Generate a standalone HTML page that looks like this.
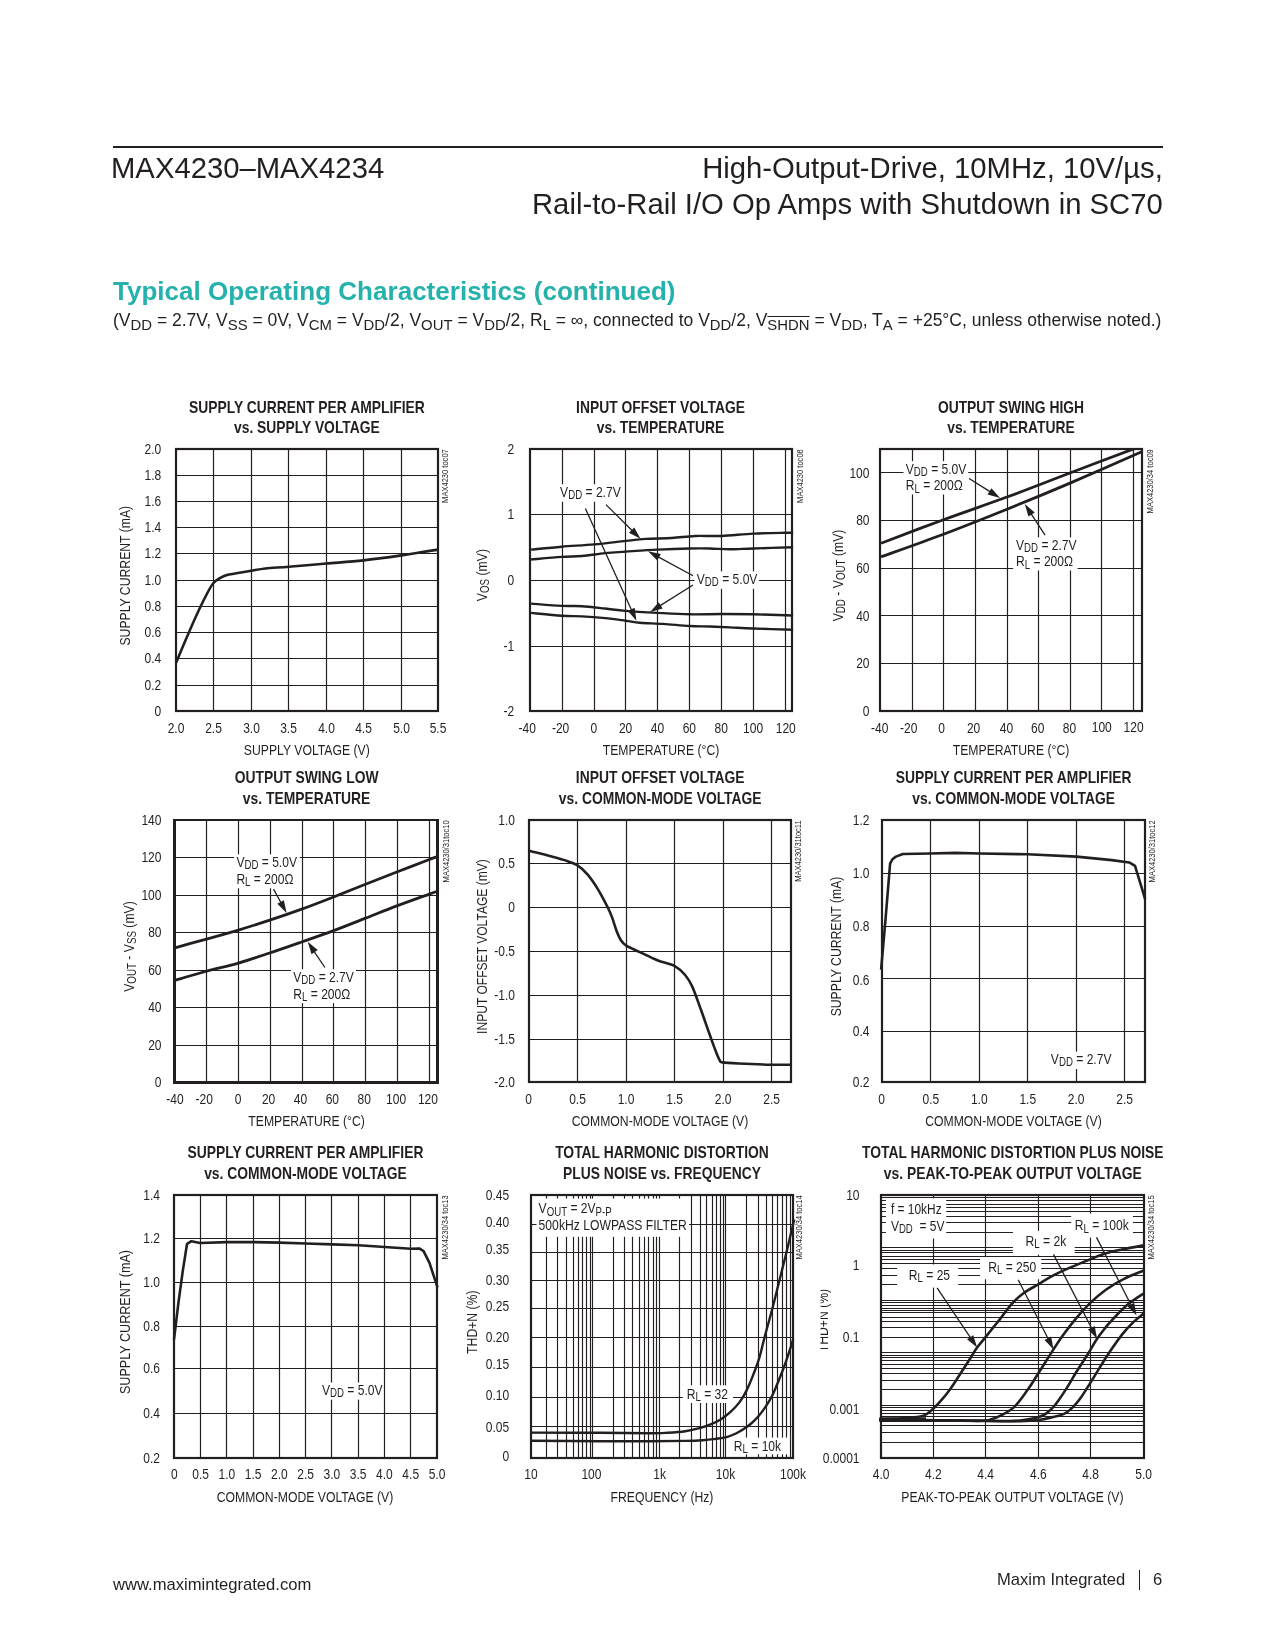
<!DOCTYPE html>
<html><head><meta charset="utf-8"><title>MAX4230-MAX4234</title>
<style>
html,body{margin:0;padding:0;background:#fff;}
body{width:1275px;height:1650px;position:relative;overflow:hidden;font-family:"Liberation Sans",sans-serif;color:#231f20;}
.abs{position:absolute;white-space:nowrap;will-change:transform;}
.rule{position:absolute;left:113px;top:146px;width:1050px;height:2px;background:#231f20;}
.h1{font-size:29.25px;line-height:36px;}
.toc{font-size:26.06px;font-weight:bold;color:#25b2ac;}
.cond{font-size:17.5px;}
.cond sub{font-size:14.9px;vertical-align:baseline;position:relative;top:3.5px;}
.ft{font-size:16.6px;}
svg text{font-family:"Liberation Sans",sans-serif;}
</style></head><body>
<div class="rule"></div>
<div class="abs h1" style="left:111.4px;top:149.6px;">MAX4230–MAX4234</div>
<div class="abs h1" style="right:112.4px;top:149.6px;text-align:right;">High-Output-Drive, 10MHz, 10V/µs,<br>Rail-to-Rail I/O Op Amps with Shutdown in SC70</div>
<div class="abs toc" style="left:112.6px;top:275.8px;">Typical Operating Characteristics (continued)</div>
<div class="abs cond" style="left:112.5px;top:309.8px;">(V<sub>DD</sub> = 2.7V, V<sub>SS</sub> = 0V, V<sub>CM</sub> = V<sub>DD</sub>/2, V<sub>OUT</sub> = V<sub>DD</sub>/2, R<sub>L</sub> = ∞, connected to V<sub>DD</sub>/2, V<sub style="text-decoration:overline">SHDN</sub> = V<sub>DD</sub>, T<sub>A</sub> = +25°C, unless otherwise noted.)</div>
<svg class="abs" style="left:0;top:0;will-change:transform" width="1275" height="1650" viewBox="0 0 1275 1650">
<line x1="213.50" y1="449.00" x2="213.50" y2="711.00" stroke="#231f20" stroke-width="1.2"/>
<line x1="251.50" y1="449.00" x2="251.50" y2="711.00" stroke="#231f20" stroke-width="1.2"/>
<line x1="288.50" y1="449.00" x2="288.50" y2="711.00" stroke="#231f20" stroke-width="1.2"/>
<line x1="326.50" y1="449.00" x2="326.50" y2="711.00" stroke="#231f20" stroke-width="1.2"/>
<line x1="363.50" y1="449.00" x2="363.50" y2="711.00" stroke="#231f20" stroke-width="1.2"/>
<line x1="401.50" y1="449.00" x2="401.50" y2="711.00" stroke="#231f20" stroke-width="1.2"/>
<line x1="176.00" y1="475.50" x2="438.00" y2="475.50" stroke="#231f20" stroke-width="1.2"/>
<line x1="176.00" y1="501.50" x2="438.00" y2="501.50" stroke="#231f20" stroke-width="1.2"/>
<line x1="176.00" y1="527.50" x2="438.00" y2="527.50" stroke="#231f20" stroke-width="1.2"/>
<line x1="176.00" y1="553.50" x2="438.00" y2="553.50" stroke="#231f20" stroke-width="1.2"/>
<line x1="176.00" y1="580.50" x2="438.00" y2="580.50" stroke="#231f20" stroke-width="1.2"/>
<line x1="176.00" y1="606.50" x2="438.00" y2="606.50" stroke="#231f20" stroke-width="1.2"/>
<line x1="176.00" y1="632.50" x2="438.00" y2="632.50" stroke="#231f20" stroke-width="1.2"/>
<line x1="176.00" y1="658.50" x2="438.00" y2="658.50" stroke="#231f20" stroke-width="1.2"/>
<line x1="176.00" y1="685.50" x2="438.00" y2="685.50" stroke="#231f20" stroke-width="1.2"/>
<path d="M176.03,662.79 C177.87,658.43 183.29,645.38 187.06,636.67 C190.83,627.96 195.04,618.29 198.67,610.55 C202.30,602.81 206.36,594.83 208.82,590.24 C211.29,585.64 211.78,584.92 213.47,582.98 C215.16,581.05 216.61,579.98 218.98,578.63 C221.35,577.28 224.30,575.82 227.69,574.86 C231.07,573.89 235.38,573.50 239.30,572.83 C243.21,572.15 246.84,571.52 251.19,570.79 C255.55,570.07 259.17,569.15 265.41,568.47 C271.65,567.80 278.47,567.55 288.63,566.73 C298.79,565.91 313.88,564.60 326.36,563.54 C338.83,562.48 350.97,561.70 363.50,560.35 C376.03,558.99 392.23,556.72 401.52,555.41 C410.80,554.11 413.13,553.48 419.22,552.51 C425.31,551.54 434.94,550.09 438.08,549.61" fill="none" stroke="#231f20" stroke-width="2.6" stroke-linejoin="round" stroke-linecap="butt"/>
<rect x="176.00" y="449.00" width="262.00" height="262.00" fill="none" stroke="#231f20" stroke-width="2.2"/>
<text transform="translate(306.90,412.70) scale(0.872,1)" text-anchor="middle" font-size="15.9" font-weight="bold" fill="#231f20">SUPPLY CURRENT PER AMPLIFIER</text>
<text transform="translate(306.90,433.00) scale(0.872,1)" text-anchor="middle" font-size="15.9" font-weight="bold" fill="#231f20">vs. SUPPLY VOLTAGE</text>
<text transform="translate(161.30,453.80) scale(0.786,1)" text-anchor="end" font-size="15.3" fill="#231f20">2.0</text>
<text transform="translate(161.30,480.30) scale(0.786,1)" text-anchor="end" font-size="15.3" fill="#231f20">1.8</text>
<text transform="translate(161.30,506.30) scale(0.786,1)" text-anchor="end" font-size="15.3" fill="#231f20">1.6</text>
<text transform="translate(161.30,532.30) scale(0.786,1)" text-anchor="end" font-size="15.3" fill="#231f20">1.4</text>
<text transform="translate(161.30,558.30) scale(0.786,1)" text-anchor="end" font-size="15.3" fill="#231f20">1.2</text>
<text transform="translate(161.30,585.30) scale(0.786,1)" text-anchor="end" font-size="15.3" fill="#231f20">1.0</text>
<text transform="translate(161.30,611.30) scale(0.786,1)" text-anchor="end" font-size="15.3" fill="#231f20">0.8</text>
<text transform="translate(161.30,637.30) scale(0.786,1)" text-anchor="end" font-size="15.3" fill="#231f20">0.6</text>
<text transform="translate(161.30,663.30) scale(0.786,1)" text-anchor="end" font-size="15.3" fill="#231f20">0.4</text>
<text transform="translate(161.30,690.30) scale(0.786,1)" text-anchor="end" font-size="15.3" fill="#231f20">0.2</text>
<text transform="translate(161.30,715.80) scale(0.786,1)" text-anchor="end" font-size="15.3" fill="#231f20">0</text>
<text transform="translate(176.00,732.90) scale(0.786,1)" text-anchor="middle" font-size="15.3" fill="#231f20">2.0</text>
<text transform="translate(213.50,732.90) scale(0.786,1)" text-anchor="middle" font-size="15.3" fill="#231f20">2.5</text>
<text transform="translate(251.50,732.90) scale(0.786,1)" text-anchor="middle" font-size="15.3" fill="#231f20">3.0</text>
<text transform="translate(288.50,732.90) scale(0.786,1)" text-anchor="middle" font-size="15.3" fill="#231f20">3.5</text>
<text transform="translate(326.50,732.90) scale(0.786,1)" text-anchor="middle" font-size="15.3" fill="#231f20">4.0</text>
<text transform="translate(363.50,732.90) scale(0.786,1)" text-anchor="middle" font-size="15.3" fill="#231f20">4.5</text>
<text transform="translate(401.50,732.90) scale(0.786,1)" text-anchor="middle" font-size="15.3" fill="#231f20">5.0</text>
<text transform="translate(438.00,732.90) scale(0.786,1)" text-anchor="middle" font-size="15.3" fill="#231f20">5.5</text>
<text transform="translate(306.80,754.80) scale(0.799,1)" text-anchor="middle" font-size="15.3" fill="#231f20">SUPPLY VOLTAGE (V)</text>
<text transform="translate(130.00,575.70) rotate(-90) scale(0.799,1)" text-anchor="middle" font-size="15.3" fill="#231f20">SUPPLY CURRENT (mA)</text>
<text transform="translate(448.40,449.20) rotate(-90) scale(0.84,1)" text-anchor="end" font-size="9.0" fill="#231f20">MAX4230 toc07</text>
<line x1="562.50" y1="449.00" x2="562.50" y2="711.00" stroke="#231f20" stroke-width="1.2"/>
<line x1="594.50" y1="449.00" x2="594.50" y2="711.00" stroke="#231f20" stroke-width="1.2"/>
<line x1="625.50" y1="449.00" x2="625.50" y2="711.00" stroke="#231f20" stroke-width="1.2"/>
<line x1="657.50" y1="449.00" x2="657.50" y2="711.00" stroke="#231f20" stroke-width="1.2"/>
<line x1="689.50" y1="449.00" x2="689.50" y2="711.00" stroke="#231f20" stroke-width="1.2"/>
<line x1="721.50" y1="449.00" x2="721.50" y2="711.00" stroke="#231f20" stroke-width="1.2"/>
<line x1="753.50" y1="449.00" x2="753.50" y2="711.00" stroke="#231f20" stroke-width="1.2"/>
<line x1="785.50" y1="449.00" x2="785.50" y2="711.00" stroke="#231f20" stroke-width="1.2"/>
<line x1="529.80" y1="514.50" x2="792.30" y2="514.50" stroke="#231f20" stroke-width="1.2"/>
<line x1="529.80" y1="580.50" x2="792.30" y2="580.50" stroke="#231f20" stroke-width="1.2"/>
<line x1="529.80" y1="646.50" x2="792.30" y2="646.50" stroke="#231f20" stroke-width="1.2"/>
<path d="M531.10,549.61 C536.18,549.13 551.03,547.58 561.57,546.71 C572.11,545.84 583.67,545.35 594.36,544.39 C605.05,543.42 617.14,541.82 625.70,540.90 C634.27,539.99 638.04,539.36 645.73,538.87 C653.42,538.39 663.62,538.49 671.85,538.00 C680.07,537.52 686.79,536.31 695.06,535.97 C703.33,535.63 711.75,536.36 721.47,535.97 C731.19,535.58 742.75,534.18 753.39,533.65 C764.03,533.12 778.69,532.92 785.31,532.78 C791.94,532.63 791.84,532.78 793.15,532.78" fill="none" stroke="#231f20" stroke-width="2.4" stroke-linejoin="round" stroke-linecap="butt"/>
<path d="M531.10,559.48 C536.18,559.04 553.11,557.45 561.57,556.86 C570.03,556.28 574.63,556.62 581.88,555.99 C589.14,555.37 597.80,553.82 605.10,553.09 C612.40,552.37 616.95,552.22 625.70,551.64 C634.46,551.06 646.99,550.14 657.63,549.61 C668.27,549.08 680.89,548.64 689.55,548.45 C698.21,548.26 702.85,548.30 709.57,548.45 C716.29,548.59 722.58,549.32 729.89,549.32 C737.19,549.32 742.85,548.79 753.39,548.45 C763.94,548.11 786.52,547.48 793.15,547.29" fill="none" stroke="#231f20" stroke-width="2.4" stroke-linejoin="round" stroke-linecap="butt"/>
<path d="M531.10,603.59 C536.18,603.97 553.11,605.47 561.57,605.91 C570.03,606.34 574.63,605.76 581.88,606.20 C589.14,606.63 597.80,607.75 605.10,608.52 C612.40,609.29 616.95,610.12 625.70,610.84 C634.46,611.57 646.99,612.29 657.63,612.87 C668.27,613.45 678.91,614.13 689.55,614.32 C700.19,614.52 710.83,614.03 721.47,614.03 C732.11,614.03 741.45,614.08 753.39,614.32 C765.34,614.57 786.52,615.29 793.15,615.49" fill="none" stroke="#231f20" stroke-width="2.4" stroke-linejoin="round" stroke-linecap="butt"/>
<path d="M531.10,612.87 C536.18,613.36 553.11,615.20 561.57,615.78 C570.03,616.36 574.63,615.97 581.88,616.36 C589.14,616.74 597.80,617.37 605.10,618.10 C612.40,618.82 619.90,619.94 625.70,620.71 C631.51,621.48 633.68,622.21 639.92,622.74 C646.16,623.27 654.87,623.37 663.14,623.90 C671.41,624.43 681.81,625.50 689.55,625.93 C697.29,626.37 702.85,626.27 709.57,626.51 C716.29,626.75 722.58,627.04 729.89,627.38 C737.19,627.72 742.85,628.16 753.39,628.54 C763.94,628.93 786.52,629.51 793.15,629.71" fill="none" stroke="#231f20" stroke-width="2.4" stroke-linejoin="round" stroke-linecap="butt"/>
<rect x="530.00" y="449.00" width="262.00" height="262.00" fill="none" stroke="#231f20" stroke-width="2.2"/>
<rect x="558.09" y="484.31" width="63.26" height="17.41" fill="#fff"/>
<text transform="translate(560.12,496.50) scale(0.79,1)" text-anchor="start" font-size="15.3" fill="#231f20">V<tspan font-size="12.24" dy="2.52">DD</tspan><tspan dy="-2.52">&#8203;</tspan> = 2.7V</text>
<line x1="605.97" y1="504.63" x2="633.05" y2="531.48" stroke="#231f20" stroke-width="1.3"/>
<polygon points="640.50,538.87 628.99,532.73 634.27,527.41" fill="#231f20"/>
<line x1="585.37" y1="508.40" x2="632.09" y2="611.15" stroke="#231f20" stroke-width="1.3"/>
<polygon points="636.44,620.71 627.85,610.88 634.68,607.78" fill="#231f20"/>
<rect x="694.48" y="571.37" width="64.42" height="17.41" fill="#fff"/>
<text transform="translate(696.80,583.56) scale(0.79,1)" text-anchor="start" font-size="15.3" fill="#231f20">V<tspan font-size="12.24" dy="2.52">DD</tspan><tspan dy="-2.52">&#8203;</tspan> = 5.0V</text>
<line x1="693.03" y1="575.73" x2="657.28" y2="556.35" stroke="#231f20" stroke-width="1.3"/>
<polygon points="648.05,551.35 660.83,554.01 657.25,560.60" fill="#231f20"/>
<line x1="693.03" y1="585.01" x2="658.97" y2="606.42" stroke="#231f20" stroke-width="1.3"/>
<polygon points="650.08,612.00 658.67,602.18 662.66,608.53" fill="#231f20"/>
<text transform="translate(660.50,412.70) scale(0.872,1)" text-anchor="middle" font-size="15.9" font-weight="bold" fill="#231f20">INPUT OFFSET VOLTAGE</text>
<text transform="translate(660.50,433.00) scale(0.872,1)" text-anchor="middle" font-size="15.9" font-weight="bold" fill="#231f20">vs. TEMPERATURE</text>
<text transform="translate(514.30,453.80) scale(0.786,1)" text-anchor="end" font-size="15.3" fill="#231f20">2</text>
<text transform="translate(514.30,519.30) scale(0.786,1)" text-anchor="end" font-size="15.3" fill="#231f20">1</text>
<text transform="translate(514.30,585.30) scale(0.786,1)" text-anchor="end" font-size="15.3" fill="#231f20">0</text>
<text transform="translate(514.30,651.30) scale(0.786,1)" text-anchor="end" font-size="15.3" fill="#231f20">-1</text>
<text transform="translate(514.30,715.80) scale(0.786,1)" text-anchor="end" font-size="15.3" fill="#231f20">-2</text>
<text transform="translate(527.30,732.90) scale(0.786,1)" text-anchor="middle" font-size="15.3" fill="#231f20">-40</text>
<text transform="translate(560.60,732.90) scale(0.786,1)" text-anchor="middle" font-size="15.3" fill="#231f20">-20</text>
<text transform="translate(593.78,732.90) scale(0.786,1)" text-anchor="middle" font-size="15.3" fill="#231f20">0</text>
<text transform="translate(625.56,732.90) scale(0.786,1)" text-anchor="middle" font-size="15.3" fill="#231f20">20</text>
<text transform="translate(657.44,732.90) scale(0.786,1)" text-anchor="middle" font-size="15.3" fill="#231f20">40</text>
<text transform="translate(689.32,732.90) scale(0.786,1)" text-anchor="middle" font-size="15.3" fill="#231f20">60</text>
<text transform="translate(721.20,732.90) scale(0.786,1)" text-anchor="middle" font-size="15.3" fill="#231f20">80</text>
<text transform="translate(753.08,732.90) scale(0.786,1)" text-anchor="middle" font-size="15.3" fill="#231f20">100</text>
<text transform="translate(785.76,732.90) scale(0.786,1)" text-anchor="middle" font-size="15.3" fill="#231f20">120</text>
<text transform="translate(661.00,754.80) scale(0.799,1)" text-anchor="middle" font-size="15.3" fill="#231f20">TEMPERATURE (°C)</text>
<text transform="translate(486.80,575.10) rotate(-90) scale(0.799,1)" text-anchor="middle" font-size="15.3" fill="#231f20">V<tspan font-size="12.24" dy="2.52">OS</tspan><tspan dy="-2.52">&#8203;</tspan> (mV)</text>
<text transform="translate(803.20,449.20) rotate(-90) scale(0.84,1)" text-anchor="end" font-size="9.0" fill="#231f20">MAX4230 toc08</text>
<line x1="912.50" y1="449.00" x2="912.50" y2="711.00" stroke="#231f20" stroke-width="1.2"/>
<line x1="943.50" y1="449.00" x2="943.50" y2="711.00" stroke="#231f20" stroke-width="1.2"/>
<line x1="975.50" y1="449.00" x2="975.50" y2="711.00" stroke="#231f20" stroke-width="1.2"/>
<line x1="1007.50" y1="449.00" x2="1007.50" y2="711.00" stroke="#231f20" stroke-width="1.2"/>
<line x1="1038.50" y1="449.00" x2="1038.50" y2="711.00" stroke="#231f20" stroke-width="1.2"/>
<line x1="1070.50" y1="449.00" x2="1070.50" y2="711.00" stroke="#231f20" stroke-width="1.2"/>
<line x1="1101.50" y1="449.00" x2="1101.50" y2="711.00" stroke="#231f20" stroke-width="1.2"/>
<line x1="1133.50" y1="449.00" x2="1133.50" y2="711.00" stroke="#231f20" stroke-width="1.2"/>
<line x1="880.00" y1="663.50" x2="1142.30" y2="663.50" stroke="#231f20" stroke-width="1.2"/>
<line x1="880.00" y1="615.50" x2="1142.30" y2="615.50" stroke="#231f20" stroke-width="1.2"/>
<line x1="880.00" y1="568.50" x2="1142.30" y2="568.50" stroke="#231f20" stroke-width="1.2"/>
<line x1="880.00" y1="520.50" x2="1142.30" y2="520.50" stroke="#231f20" stroke-width="1.2"/>
<line x1="880.00" y1="472.50" x2="1142.30" y2="472.50" stroke="#231f20" stroke-width="1.2"/>
<clipPath id="cp3"><rect x="880.0" y="449.0" width="262.29999999999995" height="262.0"/></clipPath><g clip-path="url(#cp3)">
<path d="M881.10,543.23 C891.50,539.31 922.40,527.46 943.49,519.72 C964.58,511.98 986.44,504.63 1007.63,496.79 C1028.81,488.96 1049.61,480.69 1070.60,472.71 C1091.59,464.73 1121.38,453.51 1133.57,448.91 C1145.76,444.32 1142.04,445.77 1143.73,445.14" fill="none" stroke="#231f20" stroke-width="2.8" stroke-linejoin="round" stroke-linecap="butt"/>
<path d="M881.10,556.86 C891.50,553.09 922.40,542.21 943.49,534.23 C964.58,526.25 986.44,517.54 1007.63,508.98 C1028.81,500.42 1048.16,492.44 1070.60,482.86 C1093.04,473.29 1130.33,456.75 1142.28,451.52" fill="none" stroke="#231f20" stroke-width="2.8" stroke-linejoin="round" stroke-linecap="butt"/>
</g>
<rect x="880.00" y="449.00" width="262.00" height="262.00" fill="none" stroke="#231f20" stroke-width="2.2"/>
<rect x="903.44" y="461.10" width="64.71" height="33.37" fill="#fff"/>
<text transform="translate(905.77,473.58) scale(0.79,1)" text-anchor="start" font-size="15.3" fill="#231f20">V<tspan font-size="12.24" dy="2.52">DD</tspan><tspan dy="-2.52">&#8203;</tspan> = 5.0V</text>
<text transform="translate(905.77,490.41) scale(0.79,1)" text-anchor="start" font-size="15.3" fill="#231f20">R<tspan font-size="12.24" dy="2.52">L</tspan><tspan dy="-2.52">&#8203;</tspan> = 200Ω</text>
<line x1="969.03" y1="478.51" x2="991.18" y2="492.38" stroke="#231f20" stroke-width="1.3"/>
<polygon points="1000.08,497.95 987.50,494.50 991.48,488.14" fill="#231f20"/>
<rect x="1013.14" y="537.42" width="64.42" height="33.08" fill="#fff"/>
<text transform="translate(1016.04,549.61) scale(0.79,1)" text-anchor="start" font-size="15.3" fill="#231f20">V<tspan font-size="12.24" dy="2.52">DD</tspan><tspan dy="-2.52">&#8203;</tspan> = 2.7V</text>
<text transform="translate(1016.04,566.44) scale(0.79,1)" text-anchor="start" font-size="15.3" fill="#231f20">R<tspan font-size="12.24" dy="2.52">L</tspan><tspan dy="-2.52">&#8203;</tspan> = 200Ω</text>
<line x1="1045.06" y1="535.10" x2="1030.50" y2="512.84" stroke="#231f20" stroke-width="1.3"/>
<polygon points="1024.75,504.05 1034.73,512.46 1028.45,516.56" fill="#231f20"/>
<text transform="translate(1011.00,412.70) scale(0.872,1)" text-anchor="middle" font-size="15.9" font-weight="bold" fill="#231f20">OUTPUT SWING HIGH</text>
<text transform="translate(1011.00,433.00) scale(0.872,1)" text-anchor="middle" font-size="15.9" font-weight="bold" fill="#231f20">vs. TEMPERATURE</text>
<text transform="translate(869.50,715.80) scale(0.786,1)" text-anchor="end" font-size="15.3" fill="#231f20">0</text>
<text transform="translate(869.50,668.16) scale(0.786,1)" text-anchor="end" font-size="15.3" fill="#231f20">20</text>
<text transform="translate(869.50,620.53) scale(0.786,1)" text-anchor="end" font-size="15.3" fill="#231f20">40</text>
<text transform="translate(869.50,572.89) scale(0.786,1)" text-anchor="end" font-size="15.3" fill="#231f20">60</text>
<text transform="translate(869.50,525.25) scale(0.786,1)" text-anchor="end" font-size="15.3" fill="#231f20">80</text>
<text transform="translate(869.50,477.62) scale(0.786,1)" text-anchor="end" font-size="15.3" fill="#231f20">100</text>
<text transform="translate(879.70,732.90) scale(0.786,1)" text-anchor="middle" font-size="15.3" fill="#231f20">-40</text>
<text transform="translate(908.75,732.90) scale(0.786,1)" text-anchor="middle" font-size="15.3" fill="#231f20">-20</text>
<text transform="translate(941.68,732.90) scale(0.786,1)" text-anchor="middle" font-size="15.3" fill="#231f20">0</text>
<text transform="translate(973.61,732.90) scale(0.786,1)" text-anchor="middle" font-size="15.3" fill="#231f20">20</text>
<text transform="translate(1006.44,732.90) scale(0.786,1)" text-anchor="middle" font-size="15.3" fill="#231f20">40</text>
<text transform="translate(1037.77,732.90) scale(0.786,1)" text-anchor="middle" font-size="15.3" fill="#231f20">60</text>
<text transform="translate(1069.40,732.90) scale(0.786,1)" text-anchor="middle" font-size="15.3" fill="#231f20">80</text>
<text transform="translate(1101.73,732.10) scale(0.786,1)" text-anchor="middle" font-size="15.3" fill="#231f20">100</text>
<text transform="translate(1133.56,732.10) scale(0.786,1)" text-anchor="middle" font-size="15.3" fill="#231f20">120</text>
<text transform="translate(1011.00,754.80) scale(0.799,1)" text-anchor="middle" font-size="15.3" fill="#231f20">TEMPERATURE (°C)</text>
<text transform="translate(842.60,575.50) rotate(-90) scale(0.799,1)" text-anchor="middle" font-size="15.3" fill="#231f20">V<tspan font-size="12.24" dy="2.52">DD</tspan><tspan dy="-2.52">&#8203;</tspan> - V<tspan font-size="12.24" dy="2.52">OUT</tspan><tspan dy="-2.52">&#8203;</tspan> (mV)</text>
<text transform="translate(1153.20,449.20) rotate(-90) scale(0.84,1)" text-anchor="end" font-size="9.0" fill="#231f20">MAX4230/34 toc09</text>
<line x1="206.50" y1="820.00" x2="206.50" y2="1082.50" stroke="#231f20" stroke-width="1.2"/>
<line x1="238.50" y1="820.00" x2="238.50" y2="1082.50" stroke="#231f20" stroke-width="1.2"/>
<line x1="270.50" y1="820.00" x2="270.50" y2="1082.50" stroke="#231f20" stroke-width="1.2"/>
<line x1="302.50" y1="820.00" x2="302.50" y2="1082.50" stroke="#231f20" stroke-width="1.2"/>
<line x1="333.50" y1="820.00" x2="333.50" y2="1082.50" stroke="#231f20" stroke-width="1.2"/>
<line x1="365.50" y1="820.00" x2="365.50" y2="1082.50" stroke="#231f20" stroke-width="1.2"/>
<line x1="397.50" y1="820.00" x2="397.50" y2="1082.50" stroke="#231f20" stroke-width="1.2"/>
<line x1="429.50" y1="820.00" x2="429.50" y2="1082.50" stroke="#231f20" stroke-width="1.2"/>
<line x1="174.50" y1="857.50" x2="437.50" y2="857.50" stroke="#231f20" stroke-width="1.2"/>
<line x1="174.50" y1="895.50" x2="437.50" y2="895.50" stroke="#231f20" stroke-width="1.2"/>
<line x1="174.50" y1="932.50" x2="437.50" y2="932.50" stroke="#231f20" stroke-width="1.2"/>
<line x1="174.50" y1="970.50" x2="437.50" y2="970.50" stroke="#231f20" stroke-width="1.2"/>
<line x1="174.50" y1="1007.50" x2="437.50" y2="1007.50" stroke="#231f20" stroke-width="1.2"/>
<line x1="174.50" y1="1045.50" x2="437.50" y2="1045.50" stroke="#231f20" stroke-width="1.2"/>
<path d="M174.00,948.05 C179.42,946.55 195.77,942.05 206.50,939.05 C217.24,936.05 227.88,933.20 238.43,930.06 C248.97,926.91 259.22,923.67 269.77,920.19 C280.31,916.71 291.05,913.03 301.69,909.16 C312.33,905.29 322.97,901.13 333.61,896.97 C344.25,892.81 354.89,888.41 365.53,884.21 C376.17,880.00 386.81,875.84 397.45,871.73 C408.10,867.62 422.70,862.05 429.38,859.54 C436.05,857.02 436.15,857.12 437.50,856.64" fill="none" stroke="#231f20" stroke-width="2.8" stroke-linejoin="round" stroke-linecap="butt"/>
<path d="M174.00,980.55 C179.42,979.00 195.77,974.17 206.50,971.27 C217.24,968.36 227.88,966.19 238.43,963.14 C248.97,960.09 259.22,956.51 269.77,952.98 C280.31,949.45 291.05,945.68 301.69,941.96 C312.33,938.23 322.97,934.60 333.61,930.64 C344.25,926.67 354.89,922.32 365.53,918.16 C376.17,914.00 386.81,909.69 397.45,905.68 C408.10,901.67 422.70,896.49 429.38,894.07 C436.05,891.65 436.15,891.65 437.50,891.17" fill="none" stroke="#231f20" stroke-width="2.8" stroke-linejoin="round" stroke-linecap="butt"/>
<rect x="173.0" y="819.0" width="266.0" height="2" fill="#231f20"/>
<rect x="173.0" y="1081.0" width="266.0" height="3" fill="#231f20"/>
<rect x="173.0" y="819.0" width="3" height="265.0" fill="#231f20"/>
<rect x="436.0" y="819.0" width="3" height="265.0" fill="#231f20"/>
<rect x="234.07" y="854.31" width="65.59" height="33.95" fill="#fff"/>
<text transform="translate(236.39,866.79) scale(0.79,1)" text-anchor="start" font-size="15.3" fill="#231f20">V<tspan font-size="12.24" dy="2.52">DD</tspan><tspan dy="-2.52">&#8203;</tspan> = 5.0V</text>
<text transform="translate(236.39,883.92) scale(0.79,1)" text-anchor="start" font-size="15.3" fill="#231f20">R<tspan font-size="12.24" dy="2.52">L</tspan><tspan dy="-2.52">&#8203;</tspan> = 200Ω</text>
<line x1="273.54" y1="889.14" x2="281.55" y2="903.73" stroke="#231f20" stroke-width="1.3"/>
<polygon points="286.60,912.94 277.30,903.78 283.87,900.17" fill="#231f20"/>
<rect x="290.95" y="969.23" width="65.00" height="33.95" fill="#fff"/>
<text transform="translate(293.27,981.71) scale(0.79,1)" text-anchor="start" font-size="15.3" fill="#231f20">V<tspan font-size="12.24" dy="2.52">DD</tspan><tspan dy="-2.52">&#8203;</tspan> = 2.7V</text>
<text transform="translate(293.27,998.54) scale(0.79,1)" text-anchor="start" font-size="15.3" fill="#231f20">R<tspan font-size="12.24" dy="2.52">L</tspan><tspan dy="-2.52">&#8203;</tspan> = 200Ω</text>
<line x1="324.90" y1="967.49" x2="313.54" y2="950.52" stroke="#231f20" stroke-width="1.3"/>
<polygon points="307.70,941.80 317.77,950.10 311.54,954.27" fill="#231f20"/>
<text transform="translate(306.60,783.40) scale(0.872,1)" text-anchor="middle" font-size="15.9" font-weight="bold" fill="#231f20">OUTPUT SWING LOW</text>
<text transform="translate(306.60,803.70) scale(0.872,1)" text-anchor="middle" font-size="15.9" font-weight="bold" fill="#231f20">vs. TEMPERATURE</text>
<text transform="translate(161.50,824.80) scale(0.786,1)" text-anchor="end" font-size="15.3" fill="#231f20">140</text>
<text transform="translate(161.50,862.30) scale(0.786,1)" text-anchor="end" font-size="15.3" fill="#231f20">120</text>
<text transform="translate(161.50,899.80) scale(0.786,1)" text-anchor="end" font-size="15.3" fill="#231f20">100</text>
<text transform="translate(161.50,937.30) scale(0.786,1)" text-anchor="end" font-size="15.3" fill="#231f20">80</text>
<text transform="translate(161.50,974.80) scale(0.786,1)" text-anchor="end" font-size="15.3" fill="#231f20">60</text>
<text transform="translate(161.50,1012.30) scale(0.786,1)" text-anchor="end" font-size="15.3" fill="#231f20">40</text>
<text transform="translate(161.50,1049.80) scale(0.786,1)" text-anchor="end" font-size="15.3" fill="#231f20">20</text>
<text transform="translate(161.50,1087.30) scale(0.786,1)" text-anchor="end" font-size="15.3" fill="#231f20">0</text>
<text transform="translate(175.00,1104.00) scale(0.786,1)" text-anchor="middle" font-size="15.3" fill="#231f20">-40</text>
<text transform="translate(204.30,1104.00) scale(0.786,1)" text-anchor="middle" font-size="15.3" fill="#231f20">-20</text>
<text transform="translate(238.06,1104.00) scale(0.786,1)" text-anchor="middle" font-size="15.3" fill="#231f20">0</text>
<text transform="translate(268.61,1104.00) scale(0.786,1)" text-anchor="middle" font-size="15.3" fill="#231f20">20</text>
<text transform="translate(300.47,1104.00) scale(0.786,1)" text-anchor="middle" font-size="15.3" fill="#231f20">40</text>
<text transform="translate(332.33,1104.00) scale(0.786,1)" text-anchor="middle" font-size="15.3" fill="#231f20">60</text>
<text transform="translate(364.18,1104.00) scale(0.786,1)" text-anchor="middle" font-size="15.3" fill="#231f20">80</text>
<text transform="translate(396.04,1104.00) scale(0.786,1)" text-anchor="middle" font-size="15.3" fill="#231f20">100</text>
<text transform="translate(427.90,1104.00) scale(0.786,1)" text-anchor="middle" font-size="15.3" fill="#231f20">120</text>
<text transform="translate(306.60,1125.90) scale(0.799,1)" text-anchor="middle" font-size="15.3" fill="#231f20">TEMPERATURE (°C)</text>
<text transform="translate(133.50,946.50) rotate(-90) scale(0.799,1)" text-anchor="middle" font-size="15.3" fill="#231f20">V<tspan font-size="12.24" dy="2.52">OUT</tspan><tspan dy="-2.52">&#8203;</tspan> - V<tspan font-size="12.24" dy="2.52">SS</tspan><tspan dy="-2.52">&#8203;</tspan> (mV)</text>
<text transform="translate(448.50,820.30) rotate(-90) scale(0.84,1)" text-anchor="end" font-size="9.0" fill="#231f20">MAX4230/31toc10</text>
<line x1="577.50" y1="820.00" x2="577.50" y2="1082.20" stroke="#231f20" stroke-width="1.2"/>
<line x1="626.50" y1="820.00" x2="626.50" y2="1082.20" stroke="#231f20" stroke-width="1.2"/>
<line x1="674.50" y1="820.00" x2="674.50" y2="1082.20" stroke="#231f20" stroke-width="1.2"/>
<line x1="723.50" y1="820.00" x2="723.50" y2="1082.20" stroke="#231f20" stroke-width="1.2"/>
<line x1="771.50" y1="820.00" x2="771.50" y2="1082.20" stroke="#231f20" stroke-width="1.2"/>
<line x1="529.00" y1="863.50" x2="791.00" y2="863.50" stroke="#231f20" stroke-width="1.2"/>
<line x1="529.00" y1="907.50" x2="791.00" y2="907.50" stroke="#231f20" stroke-width="1.2"/>
<line x1="529.00" y1="951.50" x2="791.00" y2="951.50" stroke="#231f20" stroke-width="1.2"/>
<line x1="529.00" y1="995.50" x2="791.00" y2="995.50" stroke="#231f20" stroke-width="1.2"/>
<line x1="529.00" y1="1039.50" x2="791.00" y2="1039.50" stroke="#231f20" stroke-width="1.2"/>
<path d="M528.78,850.83 C531.82,851.56 541.11,853.64 547.06,855.19 C553.01,856.73 559.39,858.43 564.47,860.12 C569.55,861.81 573.66,862.92 577.53,865.34 C581.40,867.76 584.30,870.66 587.69,874.63 C591.07,878.60 594.46,883.58 597.84,889.14 C601.23,894.70 605.58,903.17 608.00,908.00 C610.42,912.84 610.90,914.29 612.35,918.16 C613.81,922.03 615.26,927.49 616.71,931.22 C618.16,934.94 619.46,938.09 621.06,940.50 C622.66,942.92 623.14,943.79 626.28,945.73 C629.43,947.66 634.75,949.69 639.92,952.11 C645.10,954.53 651.53,957.92 657.34,960.24 C663.14,962.56 670.15,963.62 674.75,966.04 C679.34,968.46 682.00,971.36 684.90,974.75 C687.81,978.13 689.50,980.55 692.16,986.36 C694.82,992.16 697.96,1001.59 700.87,1009.57 C703.77,1017.55 707.15,1027.47 709.57,1034.24 C711.99,1041.01 713.68,1045.85 715.38,1050.20 C717.07,1054.55 718.52,1058.33 719.73,1060.36 C720.94,1062.39 719.49,1061.86 722.63,1062.39 C725.77,1062.92 730.42,1063.16 738.59,1063.55 C746.77,1063.94 762.97,1064.52 771.67,1064.71 C780.38,1064.90 787.64,1064.71 790.83,1064.71" fill="none" stroke="#231f20" stroke-width="2.6" stroke-linejoin="round" stroke-linecap="butt"/>
<rect x="529.00" y="820.00" width="262.00" height="262.00" fill="none" stroke="#231f20" stroke-width="2.2"/>
<text transform="translate(660.20,783.40) scale(0.872,1)" text-anchor="middle" font-size="15.9" font-weight="bold" fill="#231f20">INPUT OFFSET VOLTAGE</text>
<text transform="translate(660.20,803.70) scale(0.872,1)" text-anchor="middle" font-size="15.9" font-weight="bold" fill="#231f20">vs. COMMON-MODE VOLTAGE</text>
<text transform="translate(515.00,824.80) scale(0.786,1)" text-anchor="end" font-size="15.3" fill="#231f20">1.0</text>
<text transform="translate(515.00,868.30) scale(0.786,1)" text-anchor="end" font-size="15.3" fill="#231f20">0.5</text>
<text transform="translate(515.00,912.30) scale(0.786,1)" text-anchor="end" font-size="15.3" fill="#231f20">0</text>
<text transform="translate(515.00,956.30) scale(0.786,1)" text-anchor="end" font-size="15.3" fill="#231f20">-0.5</text>
<text transform="translate(515.00,1000.30) scale(0.786,1)" text-anchor="end" font-size="15.3" fill="#231f20">-1.0</text>
<text transform="translate(515.00,1044.30) scale(0.786,1)" text-anchor="end" font-size="15.3" fill="#231f20">-1.5</text>
<text transform="translate(515.00,1087.00) scale(0.786,1)" text-anchor="end" font-size="15.3" fill="#231f20">-2.0</text>
<text transform="translate(528.50,1104.00) scale(0.786,1)" text-anchor="middle" font-size="15.3" fill="#231f20">0</text>
<text transform="translate(577.52,1104.00) scale(0.786,1)" text-anchor="middle" font-size="15.3" fill="#231f20">0.5</text>
<text transform="translate(626.04,1104.00) scale(0.786,1)" text-anchor="middle" font-size="15.3" fill="#231f20">1.0</text>
<text transform="translate(674.56,1104.00) scale(0.786,1)" text-anchor="middle" font-size="15.3" fill="#231f20">1.5</text>
<text transform="translate(723.07,1104.00) scale(0.786,1)" text-anchor="middle" font-size="15.3" fill="#231f20">2.0</text>
<text transform="translate(771.59,1104.00) scale(0.786,1)" text-anchor="middle" font-size="15.3" fill="#231f20">2.5</text>
<text transform="translate(660.00,1125.90) scale(0.799,1)" text-anchor="middle" font-size="15.3" fill="#231f20">COMMON-MODE VOLTAGE (V)</text>
<text transform="translate(487.20,946.50) rotate(-90) scale(0.79,1)" text-anchor="middle" font-size="15.3" fill="#231f20">INPUT OFFSET VOLTAGE (mV)</text>
<text transform="translate(801.40,820.30) rotate(-90) scale(0.84,1)" text-anchor="end" font-size="9.0" fill="#231f20">MAX4230/31toc11</text>
<line x1="930.50" y1="820.00" x2="930.50" y2="1082.20" stroke="#231f20" stroke-width="1.2"/>
<line x1="979.50" y1="820.00" x2="979.50" y2="1082.20" stroke="#231f20" stroke-width="1.2"/>
<line x1="1027.50" y1="820.00" x2="1027.50" y2="1082.20" stroke="#231f20" stroke-width="1.2"/>
<line x1="1076.50" y1="820.00" x2="1076.50" y2="1082.20" stroke="#231f20" stroke-width="1.2"/>
<line x1="1124.50" y1="820.00" x2="1124.50" y2="1082.20" stroke="#231f20" stroke-width="1.2"/>
<line x1="882.20" y1="873.50" x2="1145.20" y2="873.50" stroke="#231f20" stroke-width="1.2"/>
<line x1="882.20" y1="926.50" x2="1145.20" y2="926.50" stroke="#231f20" stroke-width="1.2"/>
<line x1="882.20" y1="978.50" x2="1145.20" y2="978.50" stroke="#231f20" stroke-width="1.2"/>
<line x1="882.20" y1="1031.50" x2="1145.20" y2="1031.50" stroke="#231f20" stroke-width="1.2"/>
<path d="M881.10,969.52 L885.45,920.19 L890.10,863.60 L892.42,859.25 L895.90,856.64 L902.86,854.02 L930.43,853.44 L955.10,852.86 L979.77,853.44 L1027.65,854.31 L1076.40,856.64 L1111.81,860.12 L1129.22,862.44 L1135.02,865.92 L1140.83,884.79 L1145.18,899.30" fill="none" stroke="#231f20" stroke-width="2.6" stroke-linejoin="round" stroke-linecap="butt"/>
<rect x="882.00" y="820.00" width="263.00" height="262.00" fill="none" stroke="#231f20" stroke-width="2.2"/>
<rect x="1048.54" y="1051.65" width="65.59" height="17.41" fill="#fff"/>
<text transform="translate(1050.87,1063.84) scale(0.79,1)" text-anchor="start" font-size="15.3" fill="#231f20">V<tspan font-size="12.24" dy="2.52">DD</tspan><tspan dy="-2.52">&#8203;</tspan> = 2.7V</text>
<text transform="translate(1013.60,783.40) scale(0.872,1)" text-anchor="middle" font-size="15.9" font-weight="bold" fill="#231f20">SUPPLY CURRENT PER AMPLIFIER</text>
<text transform="translate(1013.60,803.70) scale(0.872,1)" text-anchor="middle" font-size="15.9" font-weight="bold" fill="#231f20">vs. COMMON-MODE VOLTAGE</text>
<text transform="translate(869.50,824.80) scale(0.786,1)" text-anchor="end" font-size="15.3" fill="#231f20">1.2</text>
<text transform="translate(869.50,878.10) scale(0.786,1)" text-anchor="end" font-size="15.3" fill="#231f20">1.0</text>
<text transform="translate(869.50,931.10) scale(0.786,1)" text-anchor="end" font-size="15.3" fill="#231f20">0.8</text>
<text transform="translate(869.50,984.80) scale(0.786,1)" text-anchor="end" font-size="15.3" fill="#231f20">0.6</text>
<text transform="translate(869.50,1036.40) scale(0.786,1)" text-anchor="end" font-size="15.3" fill="#231f20">0.4</text>
<text transform="translate(869.50,1087.00) scale(0.786,1)" text-anchor="end" font-size="15.3" fill="#231f20">0.2</text>
<text transform="translate(881.70,1104.00) scale(0.786,1)" text-anchor="middle" font-size="15.3" fill="#231f20">0</text>
<text transform="translate(930.80,1104.00) scale(0.786,1)" text-anchor="middle" font-size="15.3" fill="#231f20">0.5</text>
<text transform="translate(979.27,1104.00) scale(0.786,1)" text-anchor="middle" font-size="15.3" fill="#231f20">1.0</text>
<text transform="translate(1027.74,1104.00) scale(0.786,1)" text-anchor="middle" font-size="15.3" fill="#231f20">1.5</text>
<text transform="translate(1076.21,1104.00) scale(0.786,1)" text-anchor="middle" font-size="15.3" fill="#231f20">2.0</text>
<text transform="translate(1124.68,1104.00) scale(0.786,1)" text-anchor="middle" font-size="15.3" fill="#231f20">2.5</text>
<text transform="translate(1013.50,1125.90) scale(0.799,1)" text-anchor="middle" font-size="15.3" fill="#231f20">COMMON-MODE VOLTAGE (V)</text>
<text transform="translate(840.60,946.50) rotate(-90) scale(0.799,1)" text-anchor="middle" font-size="15.3" fill="#231f20">SUPPLY CURRENT (mA)</text>
<text transform="translate(1154.60,820.30) rotate(-90) scale(0.84,1)" text-anchor="end" font-size="9.0" fill="#231f20">MAX4230/31toc12</text>
<line x1="200.50" y1="1194.80" x2="200.50" y2="1457.80" stroke="#231f20" stroke-width="1.2"/>
<line x1="226.50" y1="1194.80" x2="226.50" y2="1457.80" stroke="#231f20" stroke-width="1.2"/>
<line x1="253.50" y1="1194.80" x2="253.50" y2="1457.80" stroke="#231f20" stroke-width="1.2"/>
<line x1="279.50" y1="1194.80" x2="279.50" y2="1457.80" stroke="#231f20" stroke-width="1.2"/>
<line x1="305.50" y1="1194.80" x2="305.50" y2="1457.80" stroke="#231f20" stroke-width="1.2"/>
<line x1="331.50" y1="1194.80" x2="331.50" y2="1457.80" stroke="#231f20" stroke-width="1.2"/>
<line x1="358.50" y1="1194.80" x2="358.50" y2="1457.80" stroke="#231f20" stroke-width="1.2"/>
<line x1="384.50" y1="1194.80" x2="384.50" y2="1457.80" stroke="#231f20" stroke-width="1.2"/>
<line x1="410.50" y1="1194.80" x2="410.50" y2="1457.80" stroke="#231f20" stroke-width="1.2"/>
<line x1="174.30" y1="1238.50" x2="437.00" y2="1238.50" stroke="#231f20" stroke-width="1.2"/>
<line x1="174.30" y1="1282.50" x2="437.00" y2="1282.50" stroke="#231f20" stroke-width="1.2"/>
<line x1="174.30" y1="1326.50" x2="437.00" y2="1326.50" stroke="#231f20" stroke-width="1.2"/>
<line x1="174.30" y1="1368.50" x2="437.00" y2="1368.50" stroke="#231f20" stroke-width="1.2"/>
<line x1="174.30" y1="1413.50" x2="437.00" y2="1413.50" stroke="#231f20" stroke-width="1.2"/>
<path d="M174.00,1339.59 L178.35,1303.32 L182.71,1271.39 L187.06,1243.82 L191.41,1241.21 L200.12,1242.95 L227.11,1242.08 L253.52,1242.08 L279.63,1242.66 L305.75,1243.53 L332.45,1244.41 L358.57,1245.28 L384.69,1247.02 L410.80,1248.76 L419.22,1248.47 L423.57,1251.08 L429.38,1262.69 L437.50,1287.35" fill="none" stroke="#231f20" stroke-width="2.6" stroke-linejoin="round" stroke-linecap="butt"/>
<rect x="174.00" y="1195.00" width="263.00" height="263.00" fill="none" stroke="#231f20" stroke-width="2.2"/>
<rect x="319.97" y="1382.54" width="62.97" height="17.12" fill="#fff"/>
<text transform="translate(322.00,1394.73) scale(0.79,1)" text-anchor="start" font-size="15.3" fill="#231f20">V<tspan font-size="12.24" dy="2.52">DD</tspan><tspan dy="-2.52">&#8203;</tspan> = 5.0V</text>
<text transform="translate(305.50,1158.40) scale(0.872,1)" text-anchor="middle" font-size="15.9" font-weight="bold" fill="#231f20">SUPPLY CURRENT PER AMPLIFIER</text>
<text transform="translate(305.50,1178.70) scale(0.872,1)" text-anchor="middle" font-size="15.9" font-weight="bold" fill="#231f20">vs. COMMON-MODE VOLTAGE</text>
<text transform="translate(160.00,1199.60) scale(0.786,1)" text-anchor="end" font-size="15.3" fill="#231f20">1.4</text>
<text transform="translate(160.00,1243.30) scale(0.786,1)" text-anchor="end" font-size="15.3" fill="#231f20">1.2</text>
<text transform="translate(160.00,1287.30) scale(0.786,1)" text-anchor="end" font-size="15.3" fill="#231f20">1.0</text>
<text transform="translate(160.00,1331.30) scale(0.786,1)" text-anchor="end" font-size="15.3" fill="#231f20">0.8</text>
<text transform="translate(160.00,1373.30) scale(0.786,1)" text-anchor="end" font-size="15.3" fill="#231f20">0.6</text>
<text transform="translate(160.00,1418.30) scale(0.786,1)" text-anchor="end" font-size="15.3" fill="#231f20">0.4</text>
<text transform="translate(160.00,1462.60) scale(0.786,1)" text-anchor="end" font-size="15.3" fill="#231f20">0.2</text>
<text transform="translate(174.30,1479.30) scale(0.786,1)" text-anchor="middle" font-size="15.3" fill="#231f20">0</text>
<text transform="translate(200.57,1479.30) scale(0.786,1)" text-anchor="middle" font-size="15.3" fill="#231f20">0.5</text>
<text transform="translate(226.84,1479.30) scale(0.786,1)" text-anchor="middle" font-size="15.3" fill="#231f20">1.0</text>
<text transform="translate(253.11,1479.30) scale(0.786,1)" text-anchor="middle" font-size="15.3" fill="#231f20">1.5</text>
<text transform="translate(279.38,1479.30) scale(0.786,1)" text-anchor="middle" font-size="15.3" fill="#231f20">2.0</text>
<text transform="translate(305.65,1479.30) scale(0.786,1)" text-anchor="middle" font-size="15.3" fill="#231f20">2.5</text>
<text transform="translate(331.92,1479.30) scale(0.786,1)" text-anchor="middle" font-size="15.3" fill="#231f20">3.0</text>
<text transform="translate(358.19,1479.30) scale(0.786,1)" text-anchor="middle" font-size="15.3" fill="#231f20">3.5</text>
<text transform="translate(384.46,1479.30) scale(0.786,1)" text-anchor="middle" font-size="15.3" fill="#231f20">4.0</text>
<text transform="translate(410.73,1479.30) scale(0.786,1)" text-anchor="middle" font-size="15.3" fill="#231f20">4.5</text>
<text transform="translate(437.00,1479.30) scale(0.786,1)" text-anchor="middle" font-size="15.3" fill="#231f20">5.0</text>
<text transform="translate(305.00,1501.60) scale(0.799,1)" text-anchor="middle" font-size="15.3" fill="#231f20">COMMON-MODE VOLTAGE (V)</text>
<text transform="translate(130.40,1322.00) rotate(-90) scale(0.824,1)" text-anchor="middle" font-size="15.3" fill="#231f20">SUPPLY CURRENT (mA)</text>
<text transform="translate(448.00,1195.30) rotate(-90) scale(0.84,1)" text-anchor="end" font-size="9.0" fill="#231f20">MAX4230/34 toc13</text>
<line x1="546.50" y1="1194.80" x2="546.50" y2="1457.80" stroke="#231f20" stroke-width="1.15"/>
<line x1="557.50" y1="1194.80" x2="557.50" y2="1457.80" stroke="#231f20" stroke-width="1.15"/>
<line x1="566.50" y1="1194.80" x2="566.50" y2="1457.80" stroke="#231f20" stroke-width="1.15"/>
<line x1="573.50" y1="1194.80" x2="573.50" y2="1457.80" stroke="#231f20" stroke-width="1.15"/>
<line x1="578.50" y1="1194.80" x2="578.50" y2="1457.80" stroke="#231f20" stroke-width="1.15"/>
<line x1="582.50" y1="1194.80" x2="582.50" y2="1457.80" stroke="#231f20" stroke-width="1.15"/>
<line x1="586.50" y1="1194.80" x2="586.50" y2="1457.80" stroke="#231f20" stroke-width="1.15"/>
<line x1="590.50" y1="1194.80" x2="590.50" y2="1457.80" stroke="#231f20" stroke-width="1.15"/>
<line x1="592.50" y1="1194.80" x2="592.50" y2="1457.80" stroke="#231f20" stroke-width="1.15"/>
<line x1="613.50" y1="1194.80" x2="613.50" y2="1457.80" stroke="#231f20" stroke-width="1.15"/>
<line x1="624.50" y1="1194.80" x2="624.50" y2="1457.80" stroke="#231f20" stroke-width="1.15"/>
<line x1="632.50" y1="1194.80" x2="632.50" y2="1457.80" stroke="#231f20" stroke-width="1.15"/>
<line x1="639.50" y1="1194.80" x2="639.50" y2="1457.80" stroke="#231f20" stroke-width="1.15"/>
<line x1="644.50" y1="1194.80" x2="644.50" y2="1457.80" stroke="#231f20" stroke-width="1.15"/>
<line x1="648.50" y1="1194.80" x2="648.50" y2="1457.80" stroke="#231f20" stroke-width="1.15"/>
<line x1="653.50" y1="1194.80" x2="653.50" y2="1457.80" stroke="#231f20" stroke-width="1.15"/>
<line x1="656.50" y1="1194.80" x2="656.50" y2="1457.80" stroke="#231f20" stroke-width="1.15"/>
<line x1="659.50" y1="1194.80" x2="659.50" y2="1457.80" stroke="#231f20" stroke-width="1.15"/>
<line x1="679.50" y1="1194.80" x2="679.50" y2="1457.80" stroke="#231f20" stroke-width="1.15"/>
<line x1="691.50" y1="1194.80" x2="691.50" y2="1457.80" stroke="#231f20" stroke-width="1.15"/>
<line x1="700.50" y1="1194.80" x2="700.50" y2="1457.80" stroke="#231f20" stroke-width="1.15"/>
<line x1="706.50" y1="1194.80" x2="706.50" y2="1457.80" stroke="#231f20" stroke-width="1.15"/>
<line x1="712.50" y1="1194.80" x2="712.50" y2="1457.80" stroke="#231f20" stroke-width="1.15"/>
<line x1="716.50" y1="1194.80" x2="716.50" y2="1457.80" stroke="#231f20" stroke-width="1.15"/>
<line x1="720.50" y1="1194.80" x2="720.50" y2="1457.80" stroke="#231f20" stroke-width="1.15"/>
<line x1="723.50" y1="1194.80" x2="723.50" y2="1457.80" stroke="#231f20" stroke-width="1.15"/>
<line x1="725.50" y1="1194.80" x2="725.50" y2="1457.80" stroke="#231f20" stroke-width="1.15"/>
<line x1="746.50" y1="1194.80" x2="746.50" y2="1457.80" stroke="#231f20" stroke-width="1.15"/>
<line x1="758.50" y1="1194.80" x2="758.50" y2="1457.80" stroke="#231f20" stroke-width="1.15"/>
<line x1="766.50" y1="1194.80" x2="766.50" y2="1457.80" stroke="#231f20" stroke-width="1.15"/>
<line x1="772.50" y1="1194.80" x2="772.50" y2="1457.80" stroke="#231f20" stroke-width="1.15"/>
<line x1="777.50" y1="1194.80" x2="777.50" y2="1457.80" stroke="#231f20" stroke-width="1.15"/>
<line x1="782.50" y1="1194.80" x2="782.50" y2="1457.80" stroke="#231f20" stroke-width="1.15"/>
<line x1="786.50" y1="1194.80" x2="786.50" y2="1457.80" stroke="#231f20" stroke-width="1.15"/>
<line x1="790.50" y1="1194.80" x2="790.50" y2="1457.80" stroke="#231f20" stroke-width="1.15"/>
<line x1="531.20" y1="1224.50" x2="792.90" y2="1224.50" stroke="#231f20" stroke-width="1.15"/>
<line x1="531.20" y1="1252.50" x2="792.90" y2="1252.50" stroke="#231f20" stroke-width="1.15"/>
<line x1="531.20" y1="1280.50" x2="792.90" y2="1280.50" stroke="#231f20" stroke-width="1.15"/>
<line x1="531.20" y1="1308.50" x2="792.90" y2="1308.50" stroke="#231f20" stroke-width="1.15"/>
<line x1="531.20" y1="1337.50" x2="792.90" y2="1337.50" stroke="#231f20" stroke-width="1.15"/>
<line x1="531.20" y1="1367.50" x2="792.90" y2="1367.50" stroke="#231f20" stroke-width="1.15"/>
<line x1="531.20" y1="1397.50" x2="792.90" y2="1397.50" stroke="#231f20" stroke-width="1.15"/>
<line x1="531.20" y1="1426.50" x2="792.90" y2="1426.50" stroke="#231f20" stroke-width="1.15"/>
<rect x="536.50" y="1198.60" width="152.50" height="38.20" fill="#fff"/>
<rect x="682.90" y="1385.30" width="50.10" height="17.70" fill="#fff"/>
<rect x="731.20" y="1437.60" width="57.20" height="16.70" fill="#fff"/>
<path d="M531.20,1432.60 C542.67,1432.63 580.20,1432.70 600.00,1432.80 C619.80,1432.90 638.73,1433.22 650.00,1433.20 C661.27,1433.18 661.72,1433.03 667.60,1432.70 C673.48,1432.37 680.00,1431.95 685.30,1431.20 C690.60,1430.45 695.08,1429.38 699.40,1428.20 C703.72,1427.02 707.67,1425.57 711.20,1424.10 C714.73,1422.63 717.47,1421.35 720.60,1419.40 C723.73,1417.45 726.87,1415.23 730.00,1412.40 C733.13,1409.57 736.65,1406.03 739.40,1402.40 C742.15,1398.77 744.15,1395.32 746.50,1390.60 C748.85,1385.88 751.35,1379.60 753.50,1374.10 C755.65,1368.60 757.50,1363.95 759.40,1357.60 C761.30,1351.25 762.73,1344.18 764.90,1336.00 C767.07,1327.82 769.98,1317.75 772.40,1308.50 C774.82,1299.25 777.05,1289.87 779.40,1280.50 C781.75,1271.13 784.25,1261.55 786.50,1252.30 C788.75,1243.05 791.60,1230.47 792.90,1225.00 C794.20,1219.53 794.07,1220.42 794.30,1219.50" fill="none" stroke="#231f20" stroke-width="2.4" stroke-linejoin="round" stroke-linecap="butt"/>
<path d="M531.20,1440.80 C542.67,1440.87 580.20,1441.13 600.00,1441.20 C619.80,1441.27 635.78,1441.25 650.00,1441.20 C664.22,1441.15 676.48,1441.07 685.30,1440.90 C694.12,1440.73 697.80,1440.55 702.90,1440.20 C708.00,1439.85 711.97,1439.32 715.90,1438.80 C719.83,1438.28 723.17,1437.98 726.50,1437.10 C729.83,1436.22 732.97,1434.88 735.90,1433.50 C738.83,1432.12 741.55,1430.47 744.10,1428.80 C746.65,1427.13 748.85,1425.55 751.20,1423.50 C753.55,1421.45 755.85,1419.23 758.20,1416.50 C760.55,1413.77 762.93,1410.63 765.30,1407.10 C767.67,1403.57 770.05,1400.02 772.40,1395.30 C774.75,1390.58 777.25,1384.10 779.40,1378.80 C781.55,1373.50 783.53,1368.40 785.30,1363.50 C787.07,1358.60 788.68,1353.48 790.00,1349.40 C791.32,1345.32 792.67,1340.73 793.20,1339.00" fill="none" stroke="#231f20" stroke-width="2.4" stroke-linejoin="round" stroke-linecap="butt"/>
<rect x="531.00" y="1195.00" width="262.00" height="263.00" fill="none" stroke="#231f20" stroke-width="2.2"/>
<text transform="translate(538.60,1213.40) scale(0.79,1)" text-anchor="start" font-size="15.3" fill="#231f20">V<tspan font-size="12.24" dy="2.52">OUT</tspan><tspan dy="-2.52">&#8203;</tspan> = 2V<tspan font-size="12.24" dy="2.52">P-P</tspan><tspan dy="-2.52">&#8203;</tspan></text>
<text transform="translate(538.60,1230.30) scale(0.795,1)" text-anchor="start" font-size="15.3" fill="#231f20">500kHz LOWPASS FILTER</text>
<text transform="translate(686.70,1398.60) scale(0.79,1)" text-anchor="start" font-size="15.3" fill="#231f20">R<tspan font-size="12.24" dy="2.52">L</tspan><tspan dy="-2.52">&#8203;</tspan> = 32</text>
<text transform="translate(733.80,1450.60) scale(0.79,1)" text-anchor="start" font-size="15.3" fill="#231f20">R<tspan font-size="12.24" dy="2.52">L</tspan><tspan dy="-2.52">&#8203;</tspan> = 10k</text>
<text transform="translate(662.00,1158.40) scale(0.872,1)" text-anchor="middle" font-size="15.9" font-weight="bold" fill="#231f20">TOTAL HARMONIC DISTORTION</text>
<text transform="translate(662.00,1178.70) scale(0.872,1)" text-anchor="middle" font-size="15.9" font-weight="bold" fill="#231f20">PLUS NOISE vs. FREQUENCY</text>
<text transform="translate(509.20,1199.70) scale(0.786,1)" text-anchor="end" font-size="15.3" fill="#231f20">0.45</text>
<text transform="translate(509.20,1227.20) scale(0.786,1)" text-anchor="end" font-size="15.3" fill="#231f20">0.40</text>
<text transform="translate(509.20,1253.90) scale(0.786,1)" text-anchor="end" font-size="15.3" fill="#231f20">0.35</text>
<text transform="translate(509.20,1284.80) scale(0.786,1)" text-anchor="end" font-size="15.3" fill="#231f20">0.30</text>
<text transform="translate(509.20,1310.80) scale(0.786,1)" text-anchor="end" font-size="15.3" fill="#231f20">0.25</text>
<text transform="translate(509.20,1341.50) scale(0.786,1)" text-anchor="end" font-size="15.3" fill="#231f20">0.20</text>
<text transform="translate(509.20,1369.30) scale(0.786,1)" text-anchor="end" font-size="15.3" fill="#231f20">0.15</text>
<text transform="translate(509.20,1399.70) scale(0.786,1)" text-anchor="end" font-size="15.3" fill="#231f20">0.10</text>
<text transform="translate(509.20,1431.50) scale(0.786,1)" text-anchor="end" font-size="15.3" fill="#231f20">0.05</text>
<text transform="translate(509.20,1460.60) scale(0.786,1)" text-anchor="end" font-size="15.3" fill="#231f20">0</text>
<text transform="translate(531.00,1479.30) scale(0.786,1)" text-anchor="middle" font-size="15.3" fill="#231f20">10</text>
<text transform="translate(591.40,1479.30) scale(0.786,1)" text-anchor="middle" font-size="15.3" fill="#231f20">100</text>
<text transform="translate(659.60,1479.30) scale(0.786,1)" text-anchor="middle" font-size="15.3" fill="#231f20">1k</text>
<text transform="translate(725.50,1479.30) scale(0.786,1)" text-anchor="middle" font-size="15.3" fill="#231f20">10k</text>
<text transform="translate(793.00,1479.30) scale(0.786,1)" text-anchor="middle" font-size="15.3" fill="#231f20">100k</text>
<text transform="translate(662.00,1501.60) scale(0.799,1)" text-anchor="middle" font-size="15.3" fill="#231f20">FREQUENCY (Hz)</text>
<text transform="translate(476.90,1322.20) rotate(-90) scale(0.799,1)" text-anchor="middle" font-size="15.3" fill="#231f20">THD+N (%)</text>
<text transform="translate(802.40,1195.30) rotate(-90) scale(0.84,1)" text-anchor="end" font-size="9.0" fill="#231f20">MAX4230/34 toc14</text>
<line x1="933.50" y1="1194.70" x2="933.50" y2="1457.80" stroke="#231f20" stroke-width="1.15"/>
<line x1="985.50" y1="1194.70" x2="985.50" y2="1457.80" stroke="#231f20" stroke-width="1.15"/>
<line x1="1038.50" y1="1194.70" x2="1038.50" y2="1457.80" stroke="#231f20" stroke-width="1.15"/>
<line x1="1090.50" y1="1194.70" x2="1090.50" y2="1457.80" stroke="#231f20" stroke-width="1.15"/>
<line x1="881.20" y1="1197.50" x2="1143.80" y2="1197.50" stroke="#231f20" stroke-width="1.15"/>
<line x1="881.20" y1="1200.50" x2="1143.80" y2="1200.50" stroke="#231f20" stroke-width="1.15"/>
<line x1="881.20" y1="1204.50" x2="1143.80" y2="1204.50" stroke="#231f20" stroke-width="1.15"/>
<line x1="881.20" y1="1207.50" x2="1143.80" y2="1207.50" stroke="#231f20" stroke-width="1.15"/>
<line x1="881.20" y1="1211.50" x2="1143.80" y2="1211.50" stroke="#231f20" stroke-width="1.15"/>
<line x1="881.20" y1="1216.50" x2="1143.80" y2="1216.50" stroke="#231f20" stroke-width="1.15"/>
<line x1="881.20" y1="1222.50" x2="1143.80" y2="1222.50" stroke="#231f20" stroke-width="1.15"/>
<line x1="881.20" y1="1232.50" x2="1143.80" y2="1232.50" stroke="#231f20" stroke-width="1.15"/>
<line x1="881.20" y1="1247.50" x2="1143.80" y2="1247.50" stroke="#231f20" stroke-width="1.15"/>
<line x1="881.20" y1="1250.50" x2="1143.80" y2="1250.50" stroke="#231f20" stroke-width="1.15"/>
<line x1="881.20" y1="1252.50" x2="1143.80" y2="1252.50" stroke="#231f20" stroke-width="1.15"/>
<line x1="881.20" y1="1256.50" x2="1143.80" y2="1256.50" stroke="#231f20" stroke-width="1.15"/>
<line x1="881.20" y1="1259.50" x2="1143.80" y2="1259.50" stroke="#231f20" stroke-width="1.15"/>
<line x1="881.20" y1="1263.50" x2="1143.80" y2="1263.50" stroke="#231f20" stroke-width="1.15"/>
<line x1="881.20" y1="1268.50" x2="1143.80" y2="1268.50" stroke="#231f20" stroke-width="1.15"/>
<line x1="881.20" y1="1275.50" x2="1143.80" y2="1275.50" stroke="#231f20" stroke-width="1.15"/>
<line x1="881.20" y1="1284.50" x2="1143.80" y2="1284.50" stroke="#231f20" stroke-width="1.15"/>
<line x1="881.20" y1="1300.50" x2="1143.80" y2="1300.50" stroke="#231f20" stroke-width="1.15"/>
<line x1="881.20" y1="1302.50" x2="1143.80" y2="1302.50" stroke="#231f20" stroke-width="1.15"/>
<line x1="881.20" y1="1305.50" x2="1143.80" y2="1305.50" stroke="#231f20" stroke-width="1.15"/>
<line x1="881.20" y1="1308.50" x2="1143.80" y2="1308.50" stroke="#231f20" stroke-width="1.15"/>
<line x1="881.20" y1="1310.50" x2="1143.80" y2="1310.50" stroke="#231f20" stroke-width="1.15"/>
<line x1="881.20" y1="1312.50" x2="1143.80" y2="1312.50" stroke="#231f20" stroke-width="1.15"/>
<line x1="881.20" y1="1317.50" x2="1143.80" y2="1317.50" stroke="#231f20" stroke-width="1.15"/>
<line x1="881.20" y1="1321.50" x2="1143.80" y2="1321.50" stroke="#231f20" stroke-width="1.15"/>
<line x1="881.20" y1="1327.50" x2="1143.80" y2="1327.50" stroke="#231f20" stroke-width="1.15"/>
<line x1="881.20" y1="1337.50" x2="1143.80" y2="1337.50" stroke="#231f20" stroke-width="1.15"/>
<line x1="881.20" y1="1352.50" x2="1143.80" y2="1352.50" stroke="#231f20" stroke-width="1.15"/>
<line x1="881.20" y1="1355.50" x2="1143.80" y2="1355.50" stroke="#231f20" stroke-width="1.15"/>
<line x1="881.20" y1="1357.50" x2="1143.80" y2="1357.50" stroke="#231f20" stroke-width="1.15"/>
<line x1="881.20" y1="1360.50" x2="1143.80" y2="1360.50" stroke="#231f20" stroke-width="1.15"/>
<line x1="881.20" y1="1364.50" x2="1143.80" y2="1364.50" stroke="#231f20" stroke-width="1.15"/>
<line x1="881.20" y1="1368.50" x2="1143.80" y2="1368.50" stroke="#231f20" stroke-width="1.15"/>
<line x1="881.20" y1="1373.50" x2="1143.80" y2="1373.50" stroke="#231f20" stroke-width="1.15"/>
<line x1="881.20" y1="1380.50" x2="1143.80" y2="1380.50" stroke="#231f20" stroke-width="1.15"/>
<line x1="881.20" y1="1389.50" x2="1143.80" y2="1389.50" stroke="#231f20" stroke-width="1.15"/>
<line x1="881.20" y1="1405.50" x2="1143.80" y2="1405.50" stroke="#231f20" stroke-width="1.15"/>
<line x1="881.20" y1="1407.50" x2="1143.80" y2="1407.50" stroke="#231f20" stroke-width="1.15"/>
<line x1="881.20" y1="1410.50" x2="1143.80" y2="1410.50" stroke="#231f20" stroke-width="1.15"/>
<line x1="881.20" y1="1413.50" x2="1143.80" y2="1413.50" stroke="#231f20" stroke-width="1.15"/>
<line x1="881.20" y1="1416.50" x2="1143.80" y2="1416.50" stroke="#231f20" stroke-width="1.15"/>
<line x1="881.20" y1="1421.50" x2="1143.80" y2="1421.50" stroke="#231f20" stroke-width="1.15"/>
<line x1="881.20" y1="1425.50" x2="1143.80" y2="1425.50" stroke="#231f20" stroke-width="1.15"/>
<line x1="881.20" y1="1432.50" x2="1143.80" y2="1432.50" stroke="#231f20" stroke-width="1.15"/>
<line x1="881.20" y1="1442.50" x2="1143.80" y2="1442.50" stroke="#231f20" stroke-width="1.15"/>
<rect x="885.90" y="1198.20" width="60.30" height="40.30" fill="#fff"/>
<rect x="897.10" y="1264.50" width="61.10" height="23.10" fill="#fff"/>
<rect x="980.00" y="1257.00" width="61.20" height="22.30" fill="#fff"/>
<rect x="1012.90" y="1230.90" width="61.80" height="23.70" fill="#fff"/>
<rect x="1071.20" y="1213.60" width="61.70" height="24.00" fill="#fff"/>
<clipPath id="cp9"><rect x="879.0" y="1194.7" width="264.7999999999999" height="263.0999999999999"/></clipPath><g clip-path="url(#cp9)">
<path d="M879.40,1419.40 C882.83,1419.27 894.57,1418.90 900.00,1418.60 C905.43,1418.30 907.98,1418.13 912.00,1417.60 C916.02,1417.07 920.90,1416.57 924.10,1415.40 C927.30,1414.23 928.65,1412.77 931.20,1410.60 C933.75,1408.43 936.27,1405.93 939.40,1402.40 C942.53,1398.87 946.67,1393.92 950.00,1389.40 C953.33,1384.88 956.07,1380.40 959.40,1375.30 C962.73,1370.20 967.05,1363.42 970.00,1358.80 C972.95,1354.18 974.50,1351.22 977.10,1347.60 C979.70,1343.98 982.87,1340.52 985.60,1337.10 C988.33,1333.68 991.10,1330.10 993.50,1327.10 C995.90,1324.10 996.95,1322.98 1000.00,1319.10 C1003.05,1315.22 1007.88,1308.12 1011.80,1303.80 C1015.72,1299.48 1019.10,1296.43 1023.50,1293.20 C1027.90,1289.97 1033.30,1287.33 1038.20,1284.40 C1043.10,1281.47 1047.50,1278.43 1052.90,1275.60 C1058.30,1272.77 1064.32,1270.15 1070.60,1267.40 C1076.88,1264.65 1084.72,1261.47 1090.60,1259.10 C1096.48,1256.73 1100.42,1254.87 1105.90,1253.20 C1111.38,1251.53 1117.15,1250.40 1123.50,1249.10 C1129.85,1247.80 1140.58,1246.02 1144.00,1245.40" fill="none" stroke="#231f20" stroke-width="2.6" stroke-linejoin="round" stroke-linecap="butt"/>
<path d="M879.40,1420.00 C889.50,1420.03 923.03,1420.07 940.00,1420.20 C956.97,1420.33 972.53,1421.00 981.20,1420.80 C989.87,1420.60 988.87,1419.82 992.00,1419.00 C995.13,1418.18 996.32,1417.88 1000.00,1415.90 C1003.68,1413.92 1009.58,1411.32 1014.10,1407.10 C1018.62,1402.88 1023.08,1396.20 1027.10,1390.60 C1031.12,1385.00 1033.80,1380.37 1038.20,1373.50 C1042.60,1366.63 1049.28,1355.88 1053.50,1349.40 C1057.72,1342.92 1059.67,1339.85 1063.50,1334.60 C1067.33,1329.35 1071.98,1323.23 1076.50,1317.90 C1081.02,1312.57 1085.70,1307.30 1090.60,1302.60 C1095.50,1297.90 1100.42,1293.62 1105.90,1289.70 C1111.38,1285.78 1117.15,1282.30 1123.50,1279.10 C1129.85,1275.90 1140.58,1271.93 1144.00,1270.50" fill="none" stroke="#231f20" stroke-width="2.6" stroke-linejoin="round" stroke-linecap="butt"/>
<path d="M879.40,1420.00 C897.00,1420.13 963.23,1420.63 985.00,1420.80 C1006.77,1420.97 1003.58,1421.13 1010.00,1421.00 C1016.42,1420.87 1018.70,1420.65 1023.50,1420.00 C1028.30,1419.35 1034.87,1418.28 1038.80,1417.10 C1042.73,1415.92 1044.35,1414.97 1047.10,1412.90 C1049.85,1410.83 1052.17,1408.62 1055.30,1404.70 C1058.43,1400.78 1062.37,1394.88 1065.90,1389.40 C1069.43,1383.92 1072.97,1377.48 1076.50,1371.80 C1080.03,1366.12 1083.67,1360.80 1087.10,1355.30 C1090.53,1349.80 1093.97,1343.50 1097.10,1338.80 C1100.23,1334.10 1103.45,1330.18 1105.90,1327.10 C1108.35,1324.02 1108.27,1323.98 1111.80,1320.30 C1115.33,1316.62 1121.73,1309.52 1127.10,1305.00 C1132.47,1300.48 1141.18,1295.17 1144.00,1293.20" fill="none" stroke="#231f20" stroke-width="2.6" stroke-linejoin="round" stroke-linecap="butt"/>
<path d="M879.40,1420.00 C897.00,1420.17 961.57,1420.80 985.00,1421.00 C1008.43,1421.20 1011.03,1421.37 1020.00,1421.20 C1028.97,1421.03 1033.32,1420.68 1038.80,1420.00 C1044.28,1419.32 1048.78,1418.08 1052.90,1417.10 C1057.02,1416.12 1060.55,1415.38 1063.50,1414.10 C1066.45,1412.82 1067.85,1411.95 1070.60,1409.40 C1073.35,1406.85 1076.67,1403.30 1080.00,1398.80 C1083.33,1394.30 1087.27,1387.68 1090.60,1382.40 C1093.93,1377.12 1096.67,1372.40 1100.00,1367.10 C1103.33,1361.80 1106.87,1356.10 1110.60,1350.60 C1114.33,1345.10 1118.68,1338.77 1122.40,1334.10 C1126.12,1329.43 1129.30,1326.08 1132.90,1322.60 C1136.50,1319.12 1142.15,1314.77 1144.00,1313.20" fill="none" stroke="#231f20" stroke-width="2.6" stroke-linejoin="round" stroke-linecap="butt"/>
<line x1="879.40" y1="1419.50" x2="926.00" y2="1419.50" stroke="#231f20" stroke-width="4.4"/>
</g>
<line x1="937.10" y1="1287.90" x2="971.26" y2="1338.88" stroke="#231f20" stroke-width="1.3"/>
<polygon points="977.10,1347.60 967.03,1339.30 973.26,1335.13" fill="#231f20"/>
<line x1="1018.20" y1="1279.70" x2="1048.76" y2="1340.03" stroke="#231f20" stroke-width="1.3"/>
<polygon points="1053.50,1349.40 1044.51,1339.94 1051.20,1336.55" fill="#231f20"/>
<line x1="1053.50" y1="1254.40" x2="1092.28" y2="1329.47" stroke="#231f20" stroke-width="1.3"/>
<polygon points="1097.10,1338.80 1088.03,1329.42 1094.69,1325.97" fill="#231f20"/>
<line x1="1096.50" y1="1237.40" x2="1131.72" y2="1306.25" stroke="#231f20" stroke-width="1.3"/>
<polygon points="1136.50,1315.60 1127.47,1306.18 1134.15,1302.76" fill="#231f20"/>
<rect x="881.00" y="1195.00" width="263.00" height="263.00" fill="none" stroke="#231f20" stroke-width="2.2"/>
<text transform="translate(890.90,1213.80) scale(0.78,1)" text-anchor="start" font-size="15.3" fill="#231f20">f = 10kHz</text>
<text transform="translate(890.90,1230.90) scale(0.785,1)" text-anchor="start" font-size="15.3" fill="#231f20">V<tspan font-size="12.24" dy="2.52">DD</tspan><tspan dy="-2.52">&#8203;</tspan>  = 5V</text>
<text transform="translate(908.80,1279.70) scale(0.79,1)" text-anchor="start" font-size="15.3" fill="#231f20">R<tspan font-size="12.24" dy="2.52">L</tspan><tspan dy="-2.52">&#8203;</tspan> = 25</text>
<text transform="translate(988.20,1271.80) scale(0.79,1)" text-anchor="start" font-size="15.3" fill="#231f20">R<tspan font-size="12.24" dy="2.52">L</tspan><tspan dy="-2.52">&#8203;</tspan> = 250</text>
<text transform="translate(1025.60,1245.80) scale(0.79,1)" text-anchor="start" font-size="15.3" fill="#231f20">R<tspan font-size="12.24" dy="2.52">L</tspan><tspan dy="-2.52">&#8203;</tspan> = 2k</text>
<text transform="translate(1074.70,1230.30) scale(0.79,1)" text-anchor="start" font-size="15.3" fill="#231f20">R<tspan font-size="12.24" dy="2.52">L</tspan><tspan dy="-2.52">&#8203;</tspan> = 100k</text>
<text transform="translate(1012.80,1158.40) scale(0.872,1)" text-anchor="middle" font-size="15.9" font-weight="bold" fill="#231f20">TOTAL HARMONIC DISTORTION PLUS NOISE</text>
<text transform="translate(1012.80,1178.70) scale(0.872,1)" text-anchor="middle" font-size="15.9" font-weight="bold" fill="#231f20">vs. PEAK-TO-PEAK OUTPUT VOLTAGE</text>
<text transform="translate(859.50,1199.70) scale(0.786,1)" text-anchor="end" font-size="15.3" fill="#231f20">10</text>
<text transform="translate(859.50,1269.90) scale(0.786,1)" text-anchor="end" font-size="15.3" fill="#231f20">1</text>
<text transform="translate(859.50,1341.50) scale(0.786,1)" text-anchor="end" font-size="15.3" fill="#231f20">0.1</text>
<text transform="translate(859.50,1413.50) scale(0.786,1)" text-anchor="end" font-size="15.3" fill="#231f20">0.001</text>
<text transform="translate(859.50,1463.00) scale(0.786,1)" text-anchor="end" font-size="15.3" fill="#231f20">0.0001</text>
<text transform="translate(881.10,1479.30) scale(0.786,1)" text-anchor="middle" font-size="15.3" fill="#231f20">4.0</text>
<text transform="translate(933.30,1479.30) scale(0.786,1)" text-anchor="middle" font-size="15.3" fill="#231f20">4.2</text>
<text transform="translate(985.60,1479.30) scale(0.786,1)" text-anchor="middle" font-size="15.3" fill="#231f20">4.4</text>
<text transform="translate(1038.40,1479.30) scale(0.786,1)" text-anchor="middle" font-size="15.3" fill="#231f20">4.6</text>
<text transform="translate(1090.60,1479.30) scale(0.786,1)" text-anchor="middle" font-size="15.3" fill="#231f20">4.8</text>
<text transform="translate(1143.70,1479.30) scale(0.786,1)" text-anchor="middle" font-size="15.3" fill="#231f20">5.0</text>
<text transform="translate(1012.40,1501.60) scale(0.799,1)" text-anchor="middle" font-size="15.3" fill="#231f20">PEAK-TO-PEAK OUTPUT VOLTAGE (V)</text>
<clipPath id="cpy9"><rect x="820.5" y="1280" width="20" height="90"/></clipPath><g clip-path="url(#cpy9)">
<text transform="translate(827.60,1320.60) rotate(-90) scale(0.799,1)" text-anchor="middle" font-size="15.3" fill="#231f20">THD+N (%)</text>
</g>
<text transform="translate(1154.20,1195.30) rotate(-90) scale(0.84,1)" text-anchor="end" font-size="9.0" fill="#231f20">MAX4230/34 toc15</text>
</svg>
<div class="abs ft" style="left:113px;top:1575px;">www.maximintegrated.com</div>
<div class="abs ft" style="right:149.6px;top:1570px;">Maxim Integrated</div>
<div class="abs" style="left:1139.3px;top:1570px;width:1.3px;height:20px;background:#231f20;"></div>
<div class="abs ft" style="right:112.4px;top:1570px;">6</div>
</body></html>
